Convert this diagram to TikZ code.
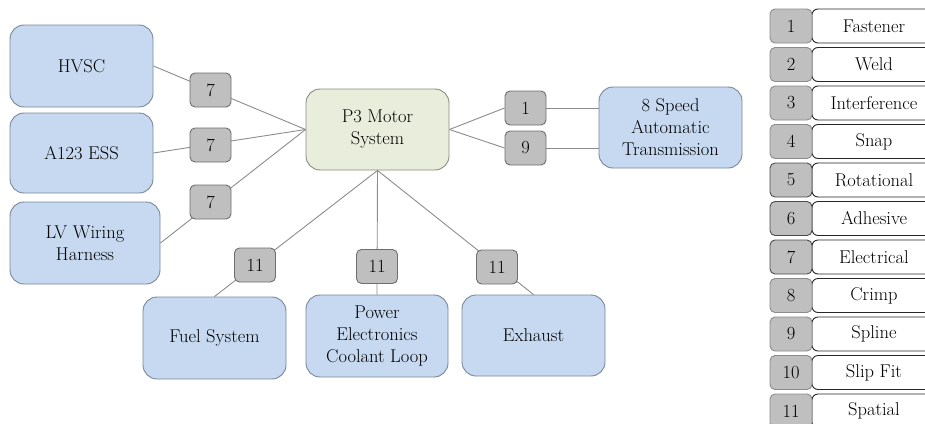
\documentclass[tikz,border=0pt]{standalone}
\usetikzlibrary{backgrounds}
\definecolor{boxblue}{HTML}{C6D9F0}
\definecolor{boxblueline}{HTML}{7A8799}
\definecolor{boxgreen}{HTML}{E9EDDC}
\definecolor{boxgreenline}{HTML}{8A8C80}
\definecolor{tagfill}{HTML}{BFBFBF}
\definecolor{tagline}{HTML}{6E6E6E}
\definecolor{connline}{HTML}{8C8C8C}
\tikzset{
  bigbox/.style={draw=boxblueline, fill=boxblue, line width=0.9pt, rounded corners=14pt,
    minimum width=143pt, minimum height=82pt, inner sep=0pt, align=center,
    font=\fontsize{18.5}{22}\selectfont},
  centerbox/.style={bigbox, draw=boxgreenline, fill=boxgreen},
  tagbox/.style={draw=tagline, fill=tagfill, line width=0.9pt, rounded corners=5pt,
    minimum width=41pt, minimum height=34pt, inner sep=0pt,
    font=\fontsize{18.5}{22}\selectfont},
  legtag/.style={tagbox, draw=tagline!80, minimum width=42pt},
  legtagdark/.style={tagbox, draw=black!70, minimum width=42pt},
  legname/.style={draw=black!85, fill=white, line width=0.9pt, rounded corners=6pt,
    minimum width=124pt, minimum height=34pt, inner sep=0pt,
    font=\fontsize{18.5}{22}\selectfont},
  conn/.style={draw=connline, line width=0.9pt}
}
\begin{document}
\begin{tikzpicture}[x=1pt,y=-1pt]
\useasboundingbox (0,0) rectangle (925,423);
\clip (0,0) rectangle (925,423);

% main boxes
\node[bigbox] (hvsc) at (81.5,66) {HVSC};
\node[bigbox, minimum height=80pt] (ess) at (81.5,153) {A123 ESS};
\node[bigbox, minimum width=150pt] (lv) at (85,243) {LV Wiring\\Harness};
\node[centerbox, minimum height=81pt] (p3) at (377.5,129.5) {P3 Motor\\System};
\node[bigbox, minimum height=81pt] (trans) at (670.5,127.5) {8 Speed\\Automatic\\Transmission};
\node[bigbox] (fuel) at (214.5,338) {Fuel System};
\node[bigbox, minimum width=142pt] (pecl) at (377,336) {Power\\Electronics\\Coolant Loop};
\node[bigbox, minimum height=81pt] (exh) at (533.5,335.5) {Exhaust};

% tags
\node[tagbox] (t1) at (210.5,90) {7};
\node[tagbox] (t2) at (210.5,145) {7};
\node[tagbox] (t3) at (210.5,202) {7};
\node[tagbox] (t4) at (525.5,108) {1};
\node[tagbox] (t5) at (525.5,148) {9};
\node[tagbox] (t6) at (255,265) {11};
\node[tagbox] (t7) at (377,266.5) {11};
\node[tagbox] (t8) at (497,267) {11};

\begin{pgfonlayer}{background}
\draw[conn] (hvsc.east) -- (p3.west);
\draw[conn] (ess.east) -- (p3.west);
\draw[conn] (lv.east) -- (p3.west);
\draw[conn] (p3.east) -- (t4.west);
\draw[conn] (p3.east) -- (t5.west);
\draw[conn] (t4.east) -- (t4.east -| trans.west);
\draw[conn] (t5.east) -- (t5.east -| trans.west);
\draw[conn] (p3.south) -- (fuel.north);
\draw[conn] (p3.south) -- (pecl.north);
\draw[conn] (p3.south) -- (exh.north);
\end{pgfonlayer}

% legend
\foreach \i/\name in {1/Fastener,2/Weld,3/Interference,4/Snap,5/Rotational,6/Adhesive,7/Electrical,8/Crimp,9/Spline,10/Slip Fit,11/Spatial}{
  \pgfmathsetmacro{\yy}{26+38.5*(\i-1)}
  \node[legname] (ln\i) at (874,\yy) {\name};
}
\foreach \i in {1,2,3,4,8,9,10,11}{
  \pgfmathsetmacro{\yy}{26+38.5*(\i-1)}
  \node[legtag] (lt\i) at (791,\yy) {\i};
}
\foreach \i in {5,6,7}{
  \pgfmathsetmacro{\yy}{26+38.5*(\i-1)}
  \node[legtagdark] (lt\i) at (791,\yy) {\i};
}
\end{tikzpicture}
\end{document}
